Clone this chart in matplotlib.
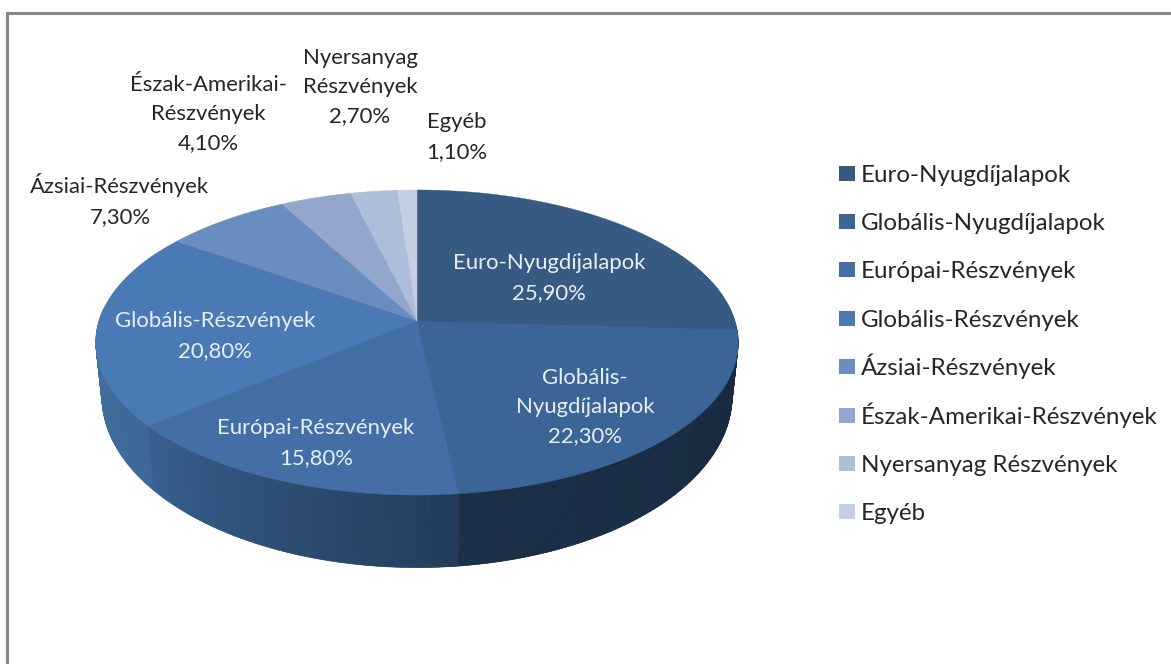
import numpy as np
import matplotlib
matplotlib.use('Agg')
import matplotlib.pyplot as plt
from matplotlib.colors import to_rgb
from matplotlib.patches import Polygon, Rectangle

# === data ===
categories = ['Euro-Nyugdíjalapok', 'Globális-Nyugdíjalapok', 'Európai-Részvények',
              'Globális-Részvények', 'Ázsiai-Részvények', 'Észak-Amerikai-Részvények',
              'Nyersanyag Részvények', 'Egyéb']
shares = [25.9, 22.3, 15.8, 20.8, 7.3, 4.1, 2.7, 1.1]
wrapped_names = ['Euro-Nyugdíjalapok', 'Globális-\nNyugdíjalapok', 'Európai-Részvények',
                 'Globális-Részvények', 'Ázsiai-Részvények', 'Észak-Amerikai-\nRészvények',
                 'Nyersanyag\nRészvények', 'Egyéb']

# === style ===
slice_colors = ['#375A83', '#3B6497', '#436FA6', '#4A7AB5', '#6A8DC0', '#93A7CE', '#AEBDD9', '#C5CFE3']
# wall colours at the start and the end of each visible slice
wall_colors = {1: ('#172A3F', '#1C3048'), 2: ('#233C5A', '#38608F'), 3: ('#3D6899', '#44719F')}
label_xy = [(549, 278), (585, 407), (316, 443), (215, 336), (120, 200), (208, 114), (360, 87), (457, 137)]
label_colors = ['#E8EEF5'] * 4 + ['#262626'] * 4
FONT = 'Lato'
FS = 15.9
LEGEND_FS = 17.4

CX = 417
K = -0.141


def project(theta_deg, a, b, y0):
    th = np.radians(theta_deg)
    u, v = np.sin(th), -np.cos(th)
    d = 1 + K * v
    return np.column_stack([CX + b * u / d, y0 + a * v / d])


def top_edge(theta_deg):
    return project(theta_deg, 149.5, 318, 321)


def bottom_edge(theta_deg):
    return project(theta_deg, 168, 312, 372)


def convex_hull(pts):
    pts = sorted(map(tuple, pts))

    def half(seq):
        out = []
        for p in seq:
            while len(out) > 1 and ((out[-1][0] - out[-2][0]) * (p[1] - out[-2][1])
                                    - (out[-1][1] - out[-2][1]) * (p[0] - out[-2][0])) <= 0:
                out.pop()
            out.append(p)
        return out[:-1]

    return np.array(half(pts) + half(pts[::-1]))


fig = plt.figure(figsize=(11.71, 6.64), dpi=100)
ax = fig.add_axes([0, 0, 1, 1])
ax.set_xlim(0, 1171)
ax.set_ylim(664, 0)
ax.axis('off')

# chart frame, runs off the right and bottom of the picture
ax.add_patch(Rectangle((7, 13), 1200, 700, fc='white', ec='#868686', lw=2.2))

bounds = np.concatenate([[0], np.cumsum(shares)]) * 3.6

# === side wall ===
# silhouette first, so the tangent parts left and right are filled too
sweep = np.linspace(60, 300, 241)
hull = Polygon(convex_hull(np.vstack([top_edge(sweep), bottom_edge(sweep)])), fc='none', ec='none')
ax.add_patch(hull)
for x0, width, col in [(0, CX, wall_colors[3][1]), (CX, 800, wall_colors[1][0])]:
    r = Rectangle((x0, 150), width, 500, fc=col, ec='none')
    ax.add_patch(r)
    r.set_clip_path(hull)

for i, (c0, c1) in wall_colors.items():
    end = min(bounds[i + 1], 275)
    thetas = np.linspace(bounds[i], end, 120)
    t_pts, b_pts = top_edge(thetas), bottom_edge(thetas)
    c0, c1 = np.array(to_rgb(c0)), np.array(to_rgb(c1))
    for j in range(len(thetas) - 1):
        col = c0 + (c1 - c0) * j / (len(thetas) - 2)
        quad = [t_pts[j], t_pts[j + 1], b_pts[j + 1], b_pts[j]]
        ax.add_patch(Polygon(quad, fc=col, ec=col, lw=0.4))

# === top face ===
for i, col in enumerate(slice_colors):
    thetas = np.linspace(bounds[i], bounds[i + 1], 150)
    pts = np.vstack([[[CX, 321]], top_edge(thetas)])
    ax.add_patch(Polygon(pts, fc=col, ec=col, lw=0.3))

# === labels ===
for name, val, xy, col in zip(wrapped_names, shares, label_xy, label_colors):
    txt = name + '\n' + f'{val:.2f}'.replace('.', ',') + '%'
    ax.text(xy[0], xy[1], txt, ha='center', va='center', color=col, family=FONT,
            fontsize=FS, linespacing=1.58, multialignment='center')

# === legend ===
# by hand: accented capitals make a real legend's rows uneven
for i, (name, col) in enumerate(zip(categories, slice_colors)):
    row_y = 173 + 48.4 * i
    ax.add_patch(Rectangle((838.5, row_y - 7.5), 16, 15, fc=col, ec='none'))
    ax.text(861, row_y + 8.5, name, ha='left', va='baseline', color='#262626',
            family=FONT, fontsize=LEGEND_FS)

fig.savefig('out.png', dpi=100)
